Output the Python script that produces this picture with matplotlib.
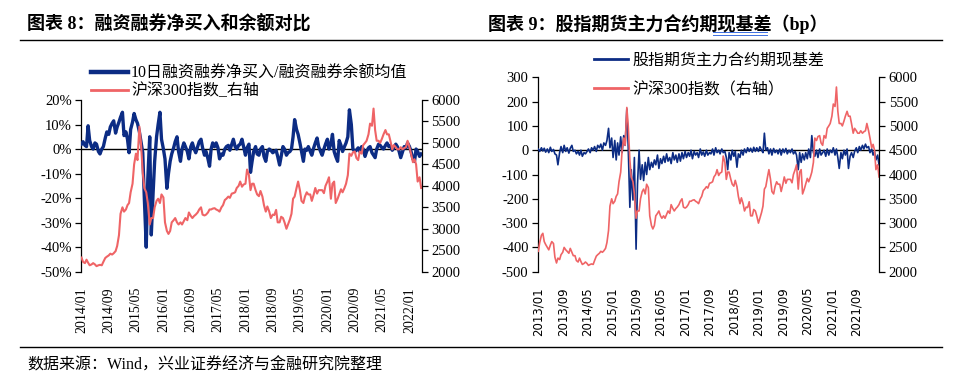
import numpy as np
import pandas as pd
import matplotlib
matplotlib.use("Agg")
import matplotlib.pyplot as plt
from matplotlib.ticker import FuncFormatter, MultipleLocator

plt.rcParams["font.family"] = ["Liberation Serif", "Noto Sans CJK SC"]
plt.rcParams["axes.unicode_minus"] = False

NAVY = "#0c2c84"
SALMON = "#ef6466"

# ---- data (semi-monthly readings) ----
# CSI 300 index, 2013/01 .. 2022/04
hs300 = [
    # 2013
    2420, 2600, 2750, 2790, 2620, 2560, 2500, 2450, 2550, 2620, 2580, 2300,
    2180, 2280, 2250, 2350, 2400, 2500, 2450, 2420, 2380, 2480, 2400, 2330,
    # 2014
    2330, 2230, 2200, 2280, 2210, 2150, 2170, 2200, 2170, 2130, 2150, 2160,
    2150, 2230, 2320, 2350, 2380, 2420, 2400, 2430, 2480, 2600, 2850, 3350,
    # 2015
    3500, 3400, 3450, 3550, 3600, 3850, 4050, 4500, 4750, 4600, 5380, 5000,
    4300, 3950, 3850, 3600, 3100, 3250, 3250, 3500, 3650, 3700, 3600, 3800,
    # 2016
    3730, 3150, 2950, 2880, 2950, 3150, 3200, 3250, 3150, 3100, 3150, 3100,
    3180, 3250, 3200, 3380, 3300, 3250, 3300, 3330, 3380, 3450, 3500, 3330,
    # 2017
    3310, 3330, 3380, 3450, 3450, 3470, 3480, 3450, 3430, 3400, 3500, 3550,
    3670, 3700, 3750, 3720, 3820, 3830, 3850, 3950, 4000, 4100, 3980, 4030,
    # 2018
    4050, 4380, 4250, 3900, 4050, 4050, 3900, 3800, 3760, 3880, 3750, 3550,
    3400, 3520, 3400, 3250, 3330, 3320, 3440, 3150, 3150, 3280, 3250, 3150,
    # 2019
    3000, 3100, 3220, 3350, 3700, 3750, 3950, 4100, 3900, 3650, 3600, 3750,
    3850, 3800, 3800, 3650, 3800, 3950, 3820, 3900, 3900, 3900, 3830, 4000,
    # 2020
    4100, 4200, 3700, 4050, 4100, 3600, 3700, 3800, 3920, 3850, 3950, 4050,
    4250, 4750, 4700, 4780, 4800, 4650, 4600, 4800, 4750, 4950, 5000, 5050,
    # 2021
    5200, 5450, 5400, 5800, 5300, 5050, 5050, 5000, 5100, 5200, 5300, 5200,
    5200, 5050, 4850, 4950, 4900, 4850, 4850, 4900, 4850, 4880, 4900, 5050,
    # 2022
    4900, 4750, 4550, 4620, 4500, 4100, 4200, 3950,
]

# 10-day margin net buying / margin balance (%), 2014/01 .. 2022/04
margin_ratio = [
    # 2014
    2.0, 3.0, 1.5, 1.0, 9.5, 3.5, 1.0, 0.0, 2.5, 2.0, -1.0, -2.0,
    0.0, 1.0, 4.5, 7.0, 6.0, 9.0, 10.5, 11.5, 6.5, 9.0, 11.0, 13.0,
    # 2015
    15.0, 5.5, 7.0, 4.0, -1.5, 8.0, 11.0, 14.5, 12.0, 10.5, 7.0, 3.0,
    -1.5, -20.0, -40.0, -12.0, 5.0, -35.0, -18.0, -5.0, 5.0, 10.0, 15.0, 4.0,
    # 2016
    0.0, -4.0, -16.0, -10.0, -5.0, -2.0, 0.5, 3.0, 5.0, -1.0, -5.0, 0.0,
    2.5, 1.0, -1.0, -4.0, 1.0, 2.5, 0.0, -1.5, 1.0, 3.0, 4.0, 0.5,
    # 2017
    -2.5, -1.0, -4.0, -7.0, 0.0, 2.5, 1.0, 2.5, 0.5, -4.0, -2.0, -2.5,
    0.0, 1.0, 1.5, -0.5, 2.0, 4.0, 1.0, 0.0, 1.5, 2.0, 4.0, 1.0,
    # 2018
    -2.5, 0.5, 2.0, -9.5, -5.0, -1.0, 1.0, -2.0, -2.5, 0.0, 1.0, -3.0,
    -5.0, -1.0, 0.0, -0.5, -1.5, -1.0, -0.5, -3.0, -6.5, -3.0, 1.0, 0.0,
    # 2019
    -2.5, -1.5, -1.0, 0.0, 5.0, 12.0, 8.0, 6.0, 2.5, -1.0, -5.0, 0.0,
    -0.5, 1.0, -1.0, -2.5, 0.5, 2.5, 4.5, 1.0, -1.0, -2.5, 0.0, 2.0,
    # 2020
    4.0, 0.0, 2.0, 6.0, -1.0, -3.0, -5.0, 3.5, 1.5, -1.0, 1.0, 2.5,
    5.0, 16.0, 10.0, 0.0, -1.0, -0.5, 0.5, -1.0, 1.0, 0.0, -3.0, -1.0,
    # 2021
    0.5, 1.0, -1.5, -2.5, -3.5, 0.0, 2.0, 1.5, 0.5, 0.0, 1.5, 2.5,
    1.0, 1.5, -0.5, 0.5, 2.0, 1.0, -1.0, -3.5, -1.0, 1.0, 0.5, 2.5,
    # 2022
    1.0, -1.0, -4.0, -5.0, 0.0, -1.0, -3.0, -2.0,
]

# futures main contract basis (bp), 2013/01 .. 2022/04
basis = [
    # 2013
    5, -5, 10, -3, 8, -8, 5, -10, 12, -5, 3, -15,
    -20, -60, -10, 15, -10, 20, -5, 10, -12, 8, 20, -5,
    # 2014
    0, -15, -5, -20, 0, -25, -10, -15, -5, 5, -10, 10,
    0, 15, -5, 20, 10, 25, 0, 30, 20, 40, 90, 10,
    # 2015
    50, -30, 40, -40, 30, -20, 55, -10, 60, 20, 170, 10,
    -235, -80, -205, -30, -407, -140, 0, -120, -60, -125, -50, -100,
    # 2016
    -30, -80, -50, -70, -40, -60, -20, -75, -35, -55, -25, -50,
    -15, -45, -30, -55, -10, -40, -20, -50, -15, -45, -10, -35,
    # 2017
    -5, -30, -10, -25, 0, -35, -5, -20, -10, -30, 5, -20,
    -7, -25, 0, -20, -10, -15, 5, -20, 10, -10, 0, -15,
    # 2018
    5, -10, -5, -30, -80, -10, -40, 0, -25, -5, -70, -15,
    -30, 0, -20, 5, -10, 10, -5, 8, -8, 12, -5, 10,
    # 2019
    -5, 14, 0, -10, 70, 0, 10, -15, 5, -20, 7, -10,
    0, -15, 5, -20, 5, -10, 7, -15, 0, -10, 5, -15,
    # 2020
    -5, -20, -80, -10, -50, -15, -40, -10, -35, 5, -30, 60,
    -10, -25, 0, -30, 5, -20, -10, 0, -25, 5, -20, 0,
    # 2021
    -10, 10, -20, 5, -30, -75, -10, -35, 0, -20, 5, -75,
    -25, -10, -30, -5, 10, -10, 15, 0, 20, 5, 25, 10,
    # 2022
    15, -10, 5, -20, -5, -40, -20, -60,
]

left_ticks = ["2014/01", "2014/09", "2015/05", "2016/01", "2016/09", "2017/05",
              "2018/01", "2018/09", "2019/05", "2020/01", "2020/09", "2021/05",
              "2022/01"]
right_ticks = ["2013/01", "2013/09", "2014/05", "2015/01", "2015/09", "2016/05",
               "2017/01", "2017/09", "2018/05", "2019/01", "2019/09", "2020/05",
               "2021/01", "2021/09"]

hs_dates = pd.date_range("2013-01-01", periods=len(hs300), freq="SMS")
mg_dates = pd.date_range("2014-01-01", periods=len(margin_ratio), freq="SMS")
hs = pd.Series(hs300, index=hs_dates)
hs_left = hs[hs.index >= "2014-01-01"]

fig = plt.figure(figsize=(9.63, 3.84), dpi=100)


def style_axes(ax, ax2, ticks, tick_font, tick_size):
    for s in ["top", "bottom"]:
        ax.spines[s].set_visible(False)
        ax2.spines[s].set_visible(False)
    ax2.spines["left"].set_visible(False)
    ax.spines["right"].set_visible(False)
    for a in (ax, ax2):
        for s in ["left", "right"]:
            a.spines[s].set_linewidth(0.9)
    ax.tick_params(axis="y", direction="out", length=4, width=0.9, labelsize=10.5, pad=3)
    ax2.tick_params(axis="y", direction="out", length=4, width=0.9, labelsize=10.5, pad=3)
    ax.set_xticks(pd.to_datetime(ticks, format="%Y/%m"))
    ax.set_xticklabels(ticks, rotation=90, fontsize=tick_size, family=tick_font)
    ax.tick_params(axis="x", length=0, pad=11)
    ax.axhline(0, color="black", lw=1.0, zorder=1)


# ---- left chart ----
axL = fig.add_axes([0.0846, 0.2924, 0.3533, 0.4472])
axL2 = axL.twinx()
l1, = axL.plot(mg_dates, margin_ratio, color=NAVY, lw=2.4, zorder=3,
               label="10日融资融券净买入/融资融券余额均值")
l2, = axL2.plot(hs_left.index, hs_left.values, color=SALMON, lw=1.5,
                label="沪深300指数_右轴")
axL.set_xlim(pd.Timestamp("2014-01-01"), pd.Timestamp("2022-04-20"))
axL.set_ylim(-50, 20)
axL.yaxis.set_major_locator(MultipleLocator(10))
axL.yaxis.set_major_formatter(FuncFormatter(lambda v, _: f"{v:.0f}%"))
axL2.set_ylim(2000, 6000)
axL2.yaxis.set_major_locator(MultipleLocator(500))
style_axes(axL, axL2, left_ticks, "Liberation Serif", 10)
legL = axL.legend(handles=[l1, l2], loc="upper left",
                  bbox_to_anchor=(91 / 963, 1 - 65.5 / 384),
                  bbox_transform=fig.transFigure, frameon=False,
                  fontsize=11.5, handlelength=2.3, handletextpad=0.2,
                  labelspacing=0.1, borderpad=0, borderaxespad=0)
legL.legend_handles[0].set_linewidth(3.2)
legL.legend_handles[1].set_linewidth(2.0)

# ---- right chart ----
axR = fig.add_axes([0.559, 0.2924, 0.3538, 0.5063])
axR2 = axR.twinx()
r1, = axR.plot(hs_dates, basis, color=NAVY, lw=1.2, zorder=3,
               label="股指期货主力合约期现基差")
r2, = axR2.plot(hs_dates, hs300, color=SALMON, lw=1.2,
                label="沪深300指数（右轴）")
axR.set_xlim(pd.Timestamp("2013-01-01"), pd.Timestamp("2022-04-15"))
axR.set_ylim(-500, 300)
axR.yaxis.set_major_locator(MultipleLocator(100))
axR.yaxis.set_major_formatter(FuncFormatter(lambda v, _: f"{v:.0f}"))
axR2.set_ylim(2000, 6000)
axR2.yaxis.set_major_locator(MultipleLocator(500))
style_axes(axR, axR2, right_ticks, "DejaVu Sans", 8.5)
legR = axR.legend(handles=[r1, r2], loc="upper left",
                  bbox_to_anchor=(594 / 963, 1 - 52.5 / 384),
                  bbox_transform=fig.transFigure, frameon=False,
                  fontsize=11.5, handlelength=2.1, handletextpad=0.3,
                  labelspacing=0.85, borderpad=0, borderaxespad=0)
for h in legR.legend_handles:
    h.set_linewidth(2.0)

# ---- titles, rules, source ----
fig.text(27 / 963, 1 - 24 / 384, "图表 8：融资融券净买入和余额对比",
         fontsize=13, fontweight="bold", va="center", ha="left")
fig.text(488 / 963, 1 - 24 / 384, "图表 9：股指期货主力合约期现基差（bp）",
         fontsize=13, fontweight="bold", va="center", ha="left")
# spell-check style double underline under 现基差
for yy in (32.0, 34.5):
    fig.add_artist(plt.Line2D([713 / 963, 767 / 963], [1 - yy / 384, 1 - yy / 384],
                              color="#3c6ee0", lw=0.7, transform=fig.transFigure))
fig.add_artist(plt.Line2D([20 / 963, 942 / 963], [1 - 40 / 384, 1 - 40 / 384],
                          color="black", lw=1.0, transform=fig.transFigure))
fig.add_artist(plt.Line2D([20 / 963, 942 / 963], [1 - 347 / 384, 1 - 347 / 384],
                          color="black", lw=1.0, transform=fig.transFigure))
fig.text(27 / 963, 1 - 366 / 384, "数据来源：Wind，兴业证券经济与金融研究院整理",
         fontsize=11.5, va="center", ha="left")

fig.savefig("out.png", dpi=100)
